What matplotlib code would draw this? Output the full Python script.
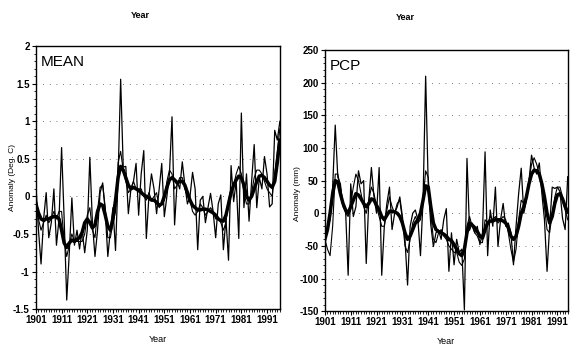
import numpy as np
import matplotlib
matplotlib.use("Agg")
import matplotlib.pyplot as plt
from matplotlib.ticker import MultipleLocator

# MEAN temperature anomaly (Deg. C), 1901-1996
mean_annual = [0.15, -0.45, -0.9, -0.3, 0.05, -0.55, -0.35, 0.1, -0.65, -0.3,
               0.65, -0.3, -1.38, -0.75, -0.02, -0.65, -0.45, -0.7, -0.45, -0.75,
               -0.45, 0.52, -0.35, -0.8, -0.45, 0.05, 0.18, -0.2, -0.8, -0.45,
               -0.15, -0.72, 0.25, 1.56, 0.39, 0.4, -0.23, 0.1, 0.2, 0.44,
               -0.25, 0.3, 0.61, -0.56, 0.0, 0.3, 0.1, -0.23, 0.1, 0.44,
               -0.27, 0.0, 0.3, 1.06, -0.38, 0.2, 0.1, 0.46, 0.15, -0.1,
               0.0, 0.32, 0.1, -0.71, -0.05, 0.0, -0.35, -0.15, 0.04, -0.2,
               -0.55, -0.1, 0.02, -0.71, -0.3, -0.85, 0.41, -0.07, 0.2, -0.56,
               1.11, -0.15, 0.3, -0.33, 0.2, 0.69, -0.15, 0.25, 0.1, 0.53,
               0.3, -0.14, -0.1, 0.88, 0.75, 1.0]
mean_mid = [0.0, -0.3, -0.45, -0.35, -0.25, -0.35, -0.3, -0.2, -0.3, -0.2,
            -0.2, -0.6, -0.8, -0.65, -0.5, -0.6, -0.6, -0.6, -0.6, -0.5,
            -0.25, -0.15, -0.45, -0.55, -0.2, 0.12, 0.15, -0.15, -0.55, -0.55,
            -0.35, -0.2, 0.45, 0.6, 0.35, 0.2, 0.05, 0.1, 0.2, 0.1,
            0.1, 0.1, 0.0, -0.05, 0.05, -0.05, 0.0, 0.05, -0.15, -0.1,
            -0.05, 0.2, 0.35, 0.3, 0.1, 0.15, 0.25, 0.25, 0.1, 0.0,
            -0.05, -0.2, -0.25, -0.2, -0.1, -0.15, -0.25, -0.2, -0.15, -0.2,
            -0.3, -0.3, -0.35, -0.45, -0.35, -0.05, 0.1, 0.15, 0.3, 0.4,
            0.3, 0.05, -0.1, -0.1, 0.05, 0.25, 0.35, 0.35, 0.3, 0.2,
            0.1, 0.05, 0.0, 0.3, 0.6, 0.9]
mean_smooth = [-0.1, -0.22, -0.3, -0.32, -0.3, -0.3, -0.28, -0.27, -0.27, -0.3,
               -0.45, -0.62, -0.68, -0.62, -0.58, -0.6, -0.57, -0.55, -0.48, -0.35,
               -0.3, -0.35, -0.42, -0.38, -0.2, -0.1, -0.12, -0.25, -0.4, -0.45,
               -0.3, -0.05, 0.25, 0.4, 0.35, 0.25, 0.15, 0.1, 0.12, 0.1,
               0.08, 0.05, 0.02, 0.0, -0.02, -0.05, -0.05, -0.08, -0.12, -0.1,
               0.0, 0.12, 0.22, 0.25, 0.22, 0.18, 0.2, 0.2, 0.15, 0.05,
               -0.05, -0.12, -0.15, -0.18, -0.18, -0.17, -0.17, -0.18, -0.2, -0.22,
               -0.25, -0.3, -0.32, -0.33, -0.25, -0.1, 0.05, 0.15, 0.22, 0.27,
               0.25, 0.15, 0.0, -0.05, 0.0, 0.1, 0.2, 0.27, 0.28, 0.25,
               0.2, 0.15, 0.12, 0.2, 0.45, 0.75]

# PCP precipitation anomaly (mm), 1901-1995
pcp_annual = [-40, -25, -10, 40, 135, 55, 45, 10, 5, -95,
              45, -5, 10, 65, 45, 50, -77, 20, 70, 25,
              0, 70, -95, -20, 15, 40, -25, 0, 10, 25,
              -5, -40, -110, -20, 0, 5, -10, -65, 20, 210,
              43, -18, -51, -30, -26, -40, -10, 7, -89, -30,
              -79, -40, -60, -55, -148, 84, -26, -15, -30, -20,
              -48, -30, 94, -65, 5, -20, 40, -51, -10, 15,
              -20, -15, -30, -79, -20, 30, 69, 0, 20, 50,
              89, 69, 60, 77, 30, -10, -89, -20, 40, 38,
              40, 33, -8, -25, 56]
pcp_mid = [-40, -55, -65, -20, 60, 60, 40, 15, 0, -5,
           15, 40, 60, 50, 30, 10, 0, 20, 40, 30,
           10, -5, -20, -20, 5, 25, 10, 0, 15, 20,
           -10, -50, -60, -40, -15, -5, -15, -10, 20, 65,
           55, 0, -40, -45, -30, -25, -35, -40, -50, -55,
           -60, -60, -75, -80, -70, -20, -5, -20, -30, -35,
           -45, -45, -10, -15, -5, -10, -5, -15, -10, -5,
           -10, -30, -55, -75, -55, -10, 20, 15, 25, 50,
           75, 85, 75, 60, 40, 10, -25, -30, 0, 25,
           40, 40, 25, 5, -10]
pcp_smooth = [-40, -25, 0, 30, 50, 48, 30, 15, 5, 0,
              10, 20, 30, 28, 22, 15, 10, 15, 22, 20,
              12, 5, -5, -10, -3, 3, 3, 2, 0, -5,
              -15, -30, -40, -35, -25, -15, -10, 0, 20, 42,
              40, 10, -15, -25, -28, -30, -32, -35, -40, -42,
              -48, -55, -62, -65, -55, -30, -15, -18, -22, -28,
              -35, -38, -25, -15, -12, -12, -10, -10, -10, -12,
              -15, -22, -35, -40, -35, -20, 0, 10, 25, 45,
              60, 66, 65, 60, 45, 25, 0, -15, -5, 15,
              28, 30, 22, 10, 2]

mean_years = np.arange(1901, 1901 + len(mean_annual))
pcp_years = np.arange(1901, 1901 + len(pcp_annual))
decade_ticks = list(range(1901, 1992, 10))

plt.rcParams['font.family'] = ['Liberation Sans Narrow', 'Liberation Sans', 'DejaVu Sans']
plt.rcParams['font.weight'] = 'bold'

fig = plt.figure(figsize=(5.7, 3.5), dpi=100)
ax1 = fig.add_axes([0.063, 0.117, 0.428, 0.751])
ax2 = fig.add_axes([0.570, 0.111, 0.426, 0.746])


def draw(ax, years, annual, mid, smooth, ylim, ystep, yminor, label):
    ax.plot(years, annual, color='black', lw=0.9)
    ax.plot(years, mid, color='black', lw=0.8)
    ax.plot(years, smooth, color='black', lw=2.5)
    ax.set_xlim(years[0], years[-1])
    ax.set_ylim(*ylim)
    ax.set_xticks(decade_ticks)
    ax.xaxis.set_minor_locator(MultipleLocator(1))
    ax.yaxis.set_major_locator(MultipleLocator(ystep))
    ax.yaxis.set_minor_locator(MultipleLocator(yminor))
    ax.yaxis.set_major_formatter(plt.FuncFormatter(lambda v, p: f'{v:g}'))
    ax.tick_params(which='major', direction='out', length=3, width=0.8, labelsize=7, pad=1.5)
    ax.tick_params(which='minor', direction='out', length=1.8, width=0.6)
    ax.grid(axis='y', color='black', linestyle=(0, (1, 7)), lw=0.6, alpha=0.7)
    for s in ax.spines.values():
        s.set_linewidth(1.0)
    ax.text(0.02, 0.965, label, transform=ax.transAxes, fontsize=11,
            fontweight='normal', va='top', ha='left')
    ax.set_xlabel('Year', fontsize=6.5, labelpad=7)


draw(ax1, mean_years, mean_annual, mean_mid, mean_smooth, (-1.5, 2), 0.5, 0.1, 'MEAN')
ax1.set_ylabel('Anomaly (Deg. C)', fontsize=6, fontweight='normal')
ax1.yaxis.set_label_coords(-0.08, 0.5)

draw(ax2, pcp_years, pcp_annual, pcp_mid, pcp_smooth, (-150, 250), 50, 10, 'PCP')
ax2.set_ylabel('Anomaly (mm)', fontsize=6, fontweight='normal')
ax2.yaxis.set_label_coords(-0.1, 0.45)

fig.text(0.247, 0.955, 'Year', fontsize=6.5, ha='center', va='center')
fig.text(0.711, 0.95, 'Year', fontsize=6.5, ha='center', va='center')

fig.savefig('out.png', dpi=100)
